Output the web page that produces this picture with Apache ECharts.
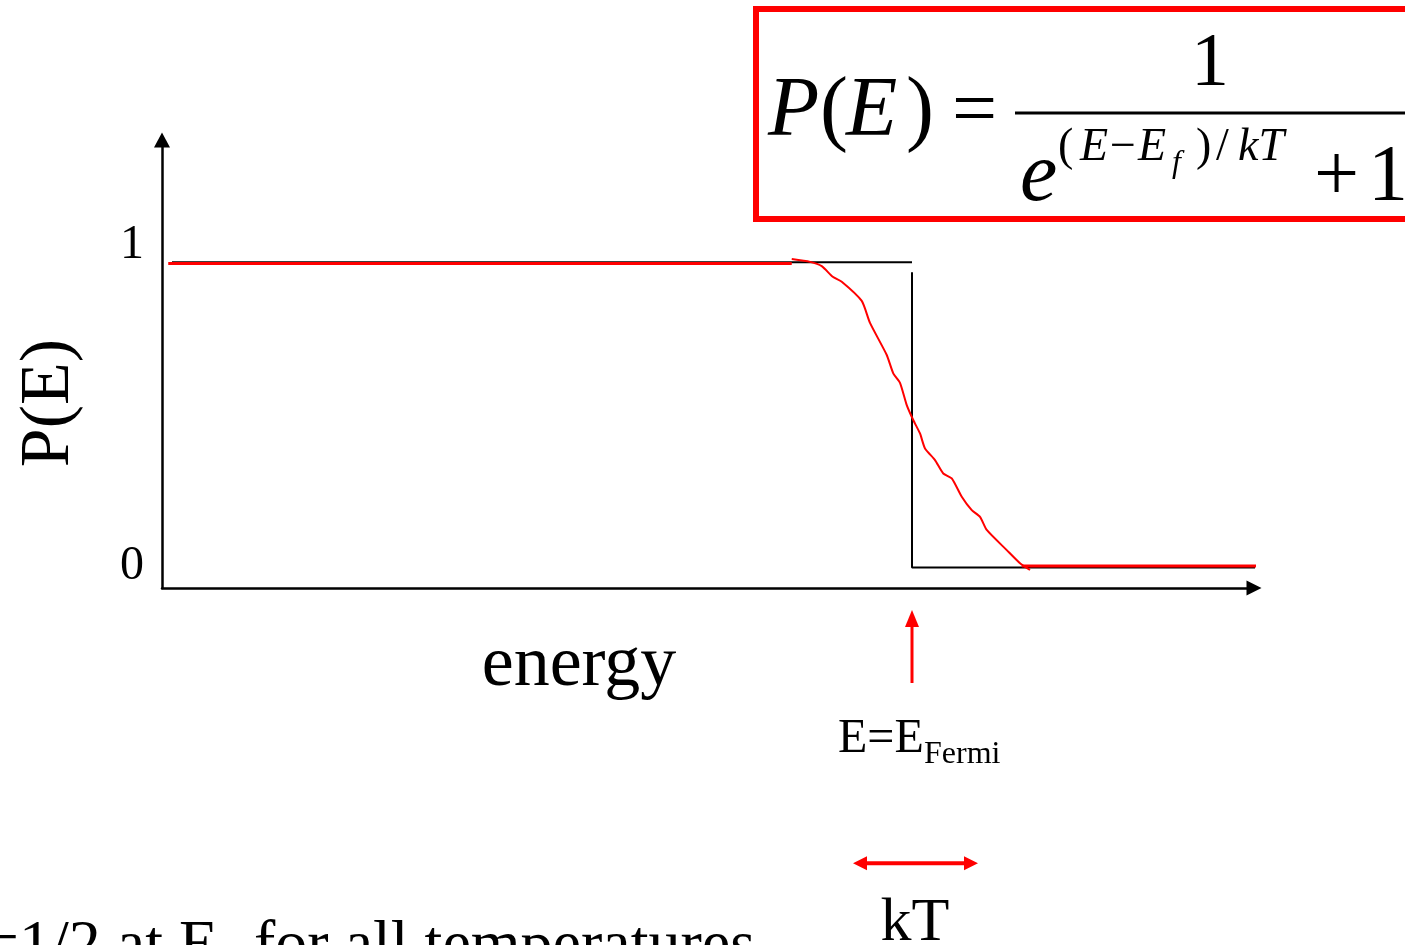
<!DOCTYPE html>
<html>
<head>
<meta charset="utf-8">
<title>Fermi-Dirac P(E)</title>
<script src="https://cdn.jsdelivr.net/npm/echarts@6/dist/echarts.min.js"></script>
<style>
  html, body { margin: 0; padding: 0; background: #fff; overflow: hidden; }
  #chart { width: 1405px; height: 945px; }
</style>
</head>
<body>
<div id="chart"></div>
<script>
// x = (E - E_Fermi) in units of kT, y = P(E)
const blackTop = [[-5.92, 1], [0, 1]];
const blackDrop = [[0, 0.967], [0, 0], [3.1, 0]];
const redTop = [[-5.95, 0.996], [-0.962, 0.996]];
const redCurve = [
  [-0.962, 1.010], [-0.816, 1.001], [-0.722, 0.987], [-0.634, 0.952],
  [-0.562, 0.936], [-0.402, 0.873], [-0.336, 0.801], [-0.202, 0.696],
  [-0.150, 0.636], [-0.096, 0.605], [-0.042, 0.532], [0.010, 0.483],
  [0.064, 0.439], [0.104, 0.390], [0.184, 0.352], [0.250, 0.308],
  [0.318, 0.292], [0.398, 0.232], [0.478, 0.188], [0.544, 0.166],
  [0.598, 0.123], [0.758, 0.057], [0.864, 0.014], [0.944, -0.008]
];
const redBottom = [[0.878, 0.005], [3.1, 0.005]];
// annotation arrows (below the axis)
const fermiArrow = [[0, -0.378], [0, -0.167]];
const ktArrow = [[-0.416, -0.968], [0.472, -0.968]];
const yTicks = [0, 1];

const SERIF = '"Liberation Serif", "Times New Roman", serif';

const chart = echarts.init(document.getElementById('chart'));

function lineSeries(data, color, width, z) {
  return {
    type: 'line',
    data: data,
    symbol: 'none',
    clip: false,
    silent: true,
    animation: false,
    z: z,
    lineStyle: { color: color, width: width },
    itemStyle: { color: color }
  };
}

// text helper: x = left (or anchor), base = baseline in px
function txt(text, x, base, size, italic, align) {
  return {
    type: 'text',
    x: x,
    y: base - 0.26 * size,
    silent: true,
    style: {
      text: text,
      fontSize: size,
      fontFamily: SERIF,
      fontStyle: italic ? 'italic' : 'normal',
      fill: '#000',
      align: align || 'left',
      verticalAlign: 'middle'
    }
  };
}

const fermiSeries = lineSeries(fermiArrow.map(function (p, i) {
  return i === 1 ? { value: p, symbol: 'triangle', symbolSize: [14, 17] } : { value: p };
}), '#ff0000', 3, 5);

const ktSeries = lineSeries(ktArrow.map(function (p, i) {
  return { value: p, symbol: 'triangle', symbolSize: [14, 14], symbolRotate: i === 0 ? 90 : -90 };
}), '#ff0000', 4, 5);

const option = {
  backgroundColor: '#fff',
  animation: false,
  grid: { left: 162, right: 151, top: 140, bottom: 357 },
  xAxis: {
    type: 'value',
    min: -6,
    max: 2.736,
    axisLine: {
      show: true, onZero: false,
      symbol: ['none', 'triangle'], symbolSize: [15, 15],
      lineStyle: { color: '#000', width: 2.5 }
    },
    axisTick: { show: false },
    axisLabel: { show: false },
    splitLine: { show: false }
  },
  yAxis: {
    type: 'value',
    min: -0.067,
    max: 1.4,
    axisLine: {
      show: true, onZero: false,
      symbol: ['none', 'triangle'], symbolSize: [16, 15],
      lineStyle: { color: '#000', width: 2.5 }
    },
    axisTick: { show: false },
    splitLine: { show: false },
    axisLabel: {
      customValues: yTicks,
      margin: 18,
      formatter: function (v) { return v === 1 ? '{a|1}' : '{b|0}'; },
      rich: {
        a: { fontSize: 48, fontFamily: SERIF, color: '#000', padding: [0, 0, 33, 0] },
        b: { fontSize: 48, fontFamily: SERIF, color: '#000', padding: [0, 0, 2, 0] }
      }
    }
  },
  series: [
    lineSeries(blackTop, '#000', 2, 2),
    lineSeries(blackDrop, '#000', 2, 2),
    lineSeries(redTop, '#ff0000', 3, 3),
    Object.assign(lineSeries(redCurve, '#ff0000', 2, 3), { smooth: 0.2 }),
    lineSeries(redBottom, '#ff0000', 3, 3),
    fermiSeries,
    ktSeries
  ],
  graphic: [
    // axis titles
    txt('energy', 579, 685, 72, false, 'center'),
    Object.assign(txt('P(E)', 50, 403 + 0.26 * 70, 70, false, 'center'), { rotation: Math.PI / 2 }),
    // Fermi marker and kT
    txt('E=E', 838, 752, 48, false),
    txt('Fermi', 924, 763, 32, false),
    txt('kT', 915, 940, 62, false, 'center'),
    // bottom note (cut by the frame)
    txt('P=1/2 at E', 218, 964, 64, false, 'right'),
    txt('F', 219, 980, 42, false),
    txt('for all temperatures', 254, 964, 64, false),
    // formula box
    {
      type: 'rect',
      silent: true,
      shape: { x: 756, y: 9, width: 700, height: 210 },
      style: { fill: 'none', stroke: '#ff0000', lineWidth: 6 }
    },
    {
      type: 'line',
      silent: true,
      shape: { x1: 1015, y1: 113, x2: 1405, y2: 113 },
      style: { stroke: '#000', lineWidth: 3 }
    },
    txt('P', 768, 135, 84, true),
    txt('(', 820, 135, 84, false),
    txt('E', 846, 135, 84, true),
    txt(')', 906, 135, 84, false),
    txt('=', 952, 135, 80, false),
    txt('1', 1210, 85, 76, false, 'center'),
    txt('e', 1020, 200, 84, true),
    txt('(', 1058, 160, 46, false),
    txt('E', 1080, 160, 46, true),
    txt('\u2212', 1110, 160, 46, false),
    txt('E', 1138, 160, 46, true),
    txt('f', 1172, 172, 32, true),
    txt(')', 1196, 160, 46, false),
    txt('/', 1216, 160, 46, false),
    txt('kT', 1238, 160, 46, true),
    txt('+', 1314, 200, 80, false),
    txt('1', 1368, 200, 80, false)
  ]
};

chart.setOption(option);
</script>
</body>
</html>
